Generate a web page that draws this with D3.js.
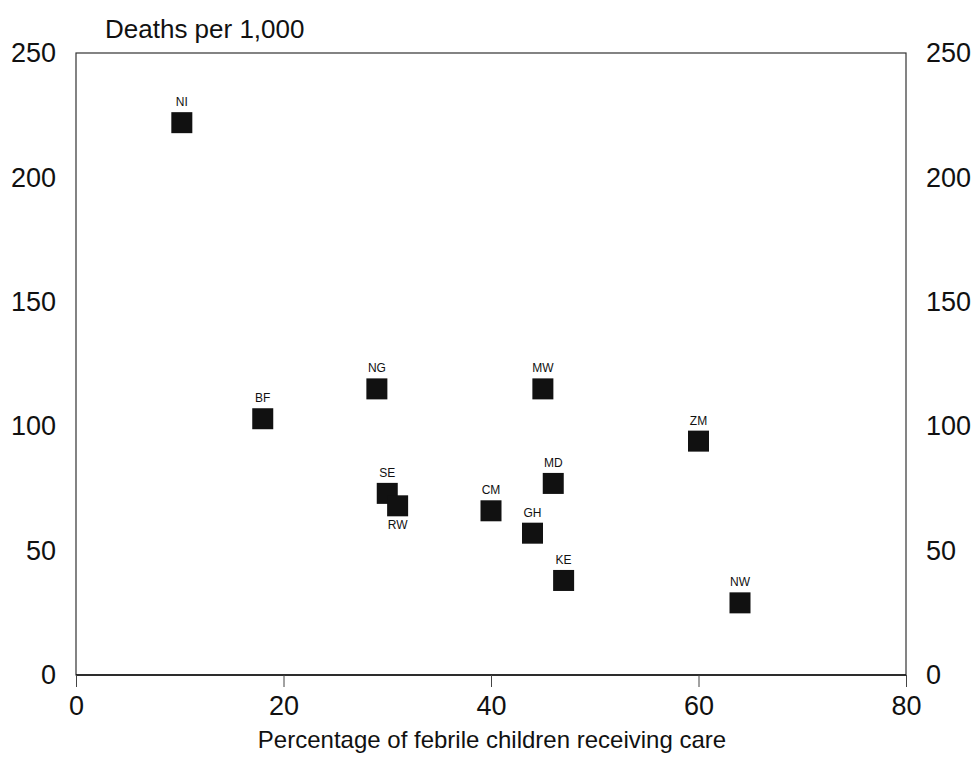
<!DOCTYPE html>
<html><head><meta charset="utf-8">
<script src="https://cdn.jsdelivr.net/npm/d3@7"></script>
<style>body{margin:0;background:#fff}svg{display:block}text{font-family:"Liberation Sans",Arial,sans-serif}</style>
</head><body><svg id="c" width="977" height="777"></svg>
<script>
const countries = ["NI","BF","NG","SE","RW","CM","MW","MD","GH","KE","ZM","NW"];
const careValues = [10.2, 18, 29, 30, 31, 40, 45, 46, 44, 47, 60, 64];
const deathValues = [222, 103, 115, 73, 68, 66, 115, 77, 57, 38, 94, 29];
const labelBelow = ["RW"];
const xTicks = [0, 20, 40, 60, 80];
const yTicks = [0, 50, 100, 150, 200, 250];

const svg = d3.select("#c");
const L = 76, R = 906, T = 53, B = 675;
const x = d3.scaleLinear().domain([0, 80]).range([L, R]);
const y = d3.scaleLinear().domain([0, 250]).range([B, T]);

// frame
svg.append("rect").attr("x", L).attr("y", T).attr("width", R - L).attr("height", B - T)
  .attr("fill", "none").attr("stroke", "#333").attr("stroke-width", 1.2);
svg.append("line").attr("x1", L).attr("x2", R).attr("y1", B).attr("y2", B).attr("stroke", "#111").attr("stroke-width", 1.4);

// bottom axis
const xa = svg.append("g").attr("transform", `translate(0,${B})`)
  .call(d3.axisBottom(x).tickValues(xTicks).tickSize(12).tickSizeOuter(0).tickPadding(9).tickFormat(d3.format("d")));
xa.select(".domain").remove();
xa.selectAll("line").attr("stroke", "#444");
xa.selectAll("text").attr("font-size", 27).attr("fill", "#111");

// left / right labels
const ya = svg.append("g").attr("transform", `translate(${L},0)`)
  .call(d3.axisLeft(y).tickValues(yTicks).tickSize(0).tickPadding(20));
ya.select(".domain").remove();
ya.selectAll("text").attr("font-size", 27).attr("fill", "#111");
const yr = svg.append("g").attr("transform", `translate(${R},0)`)
  .call(d3.axisRight(y).tickValues(yTicks).tickSize(0).tickPadding(20));
yr.select(".domain").remove();
yr.selectAll("text").attr("font-size", 27).attr("fill", "#111");

// titles
svg.append("text").attr("x", 105).attr("y", 38).attr("font-size", 26).attr("fill", "#111")
  .text("Deaths per 1,000");
svg.append("text").attr("x", (L + R) / 2 + 1).attr("y", 748).attr("text-anchor", "middle")
  .attr("font-size", 24).attr("fill", "#111").text("Percentage of febrile children receiving care");

// points
const data = countries.map((c, i) => ({ c, x: careValues[i], y: deathValues[i] }));
const s = 21;
const g = svg.append("g");
g.selectAll("rect.pt").data(data).join("rect").attr("class", "pt")
  .attr("x", d => x(d.x) - s / 2).attr("y", d => y(d.y) - s / 2)
  .attr("width", s).attr("height", s).attr("fill", "#111");
g.selectAll("text.lb").data(data).join("text").attr("class", "lb")
  .attr("x", d => x(d.x)).attr("y", d => labelBelow.includes(d.c) ? y(d.y) + s / 2 + 13 : y(d.y) - s / 2 - 6)
  .attr("text-anchor", "middle").attr("font-size", 12).attr("fill", "#111").text(d => d.c);
</script></body></html>
